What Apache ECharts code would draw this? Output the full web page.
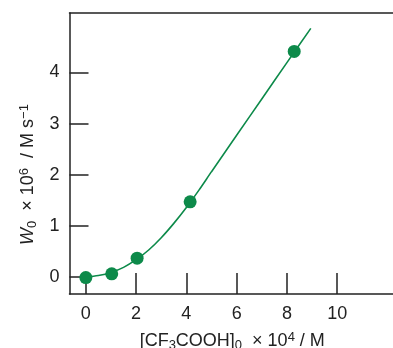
<!DOCTYPE html>
<html><head><meta charset="utf-8">
<script src="https://cdn.jsdelivr.net/npm/echarts@6/dist/echarts.min.js"></script>
<style>html,body{margin:0;padding:0;background:#fff}#c{width:393px;height:348px}</style>
</head><body><div id="c"></div>
<script>
const pointX = [0, 1.03, 2.04, 4.15, 8.29];
const pointY = [-0.01, 0.065, 0.37, 1.47, 4.41];
const curveX = [0, 0.5, 1, 1.5, 2, 2.5, 3, 3.5, 4, 4.5, 5, 6, 7, 8, 8.95];
const curveY = [0, 0.03, 0.09, 0.19, 0.34, 0.53, 0.77, 1.05, 1.36, 1.70, 2.06, 2.77, 3.48, 4.19, 4.86];
const xTicks = [0, 2, 4, 6, 8, 10];
const yTicks = [0, 1, 2, 3, 4];

const green = '#0d8a4a';
const ink = '#222';
const font = 'Liberation Sans, Arial, sans-serif';
const chart = echarts.init(document.getElementById('c'));
chart.setOption({
  animation: false,
  grid: {left: 69.5, top: 13, right: -2, bottom: 54, outerBoundsMode: 'none', containLabel: false},
  xAxis: [{
    type: 'value', min: -0.65, max: 12.3,
    axisLine: {show: true, onZero: false, lineStyle: {color: ink, width: 1.5}},
    axisTick: {show: true, inside: true, length: 21, customValues: xTicks, lineStyle: {color: ink, width: 1.5}},
    axisLabel: {customValues: xTicks, color: ink, fontSize: 18, fontFamily: font, margin: 11},
    splitLine: {show: false},
    name: '{t|[CF}{sub|3}{t|COOH]}{sub|0}{t|  × 10}{sup|4}{t| / M}',
    nameLocation: 'middle', nameGap: 37,
    nameTextStyle: {rich: {
      t: {fontSize: 18, fontFamily: font, color: ink},
      sub: {fontSize: 13, fontFamily: font, color: ink, verticalAlign: 'bottom', padding: [8, 0, 0, 0]},
      sup: {fontSize: 13, fontFamily: font, color: ink, verticalAlign: 'top', padding: [0, 0, 8, 0]}
    }}
  }, {
    type: 'value', position: 'top', min: -0.65, max: 12.3,
    axisLine: {show: true, onZero: false, lineStyle: {color: ink, width: 1.5}},
    axisTick: {show: false}, axisLabel: {show: false}, splitLine: {show: false}
  }],
  yAxis: {
    type: 'value', min: -0.33, max: 5.16,
    axisLine: {show: true, onZero: false, lineStyle: {color: ink, width: 1.5}},
    axisTick: {show: true, inside: true, length: 19, customValues: yTicks, lineStyle: {color: ink, width: 1.5}},
    axisLabel: {customValues: yTicks, color: ink, fontSize: 18, fontFamily: font, margin: 10},
    splitLine: {show: false},
    name: '{it|W}{sub|0}{t|  × 10}{sup|6}{t|  / M s}{sup|−1}',
    nameLocation: 'middle', nameGap: 29, nameRotate: 90,
    nameTextStyle: {padding: [0, 42, 0, 0], rich: {
      it: {fontSize: 18, fontStyle: 'italic', fontFamily: font, color: ink},
      t: {fontSize: 18, fontFamily: font, color: ink},
      sub: {fontSize: 13, fontFamily: font, color: ink, verticalAlign: 'bottom', padding: [8, 0, 0, 0]},
      sup: {fontSize: 13, fontFamily: font, color: ink, verticalAlign: 'top', padding: [0, 0, 8, 0]}
    }}
  },
  series: [{
    type: 'line', data: curveX.map((x, i) => [x, curveY[i]]),
    smooth: 0.3, showSymbol: false, lineStyle: {color: green, width: 1.6}, z: 2
  }, {
    type: 'scatter', data: pointX.map((x, i) => [x, pointY[i]]),
    symbolSize: 13, itemStyle: {color: green, opacity: 1}, z: 3
  }]
});
</script></body></html>
